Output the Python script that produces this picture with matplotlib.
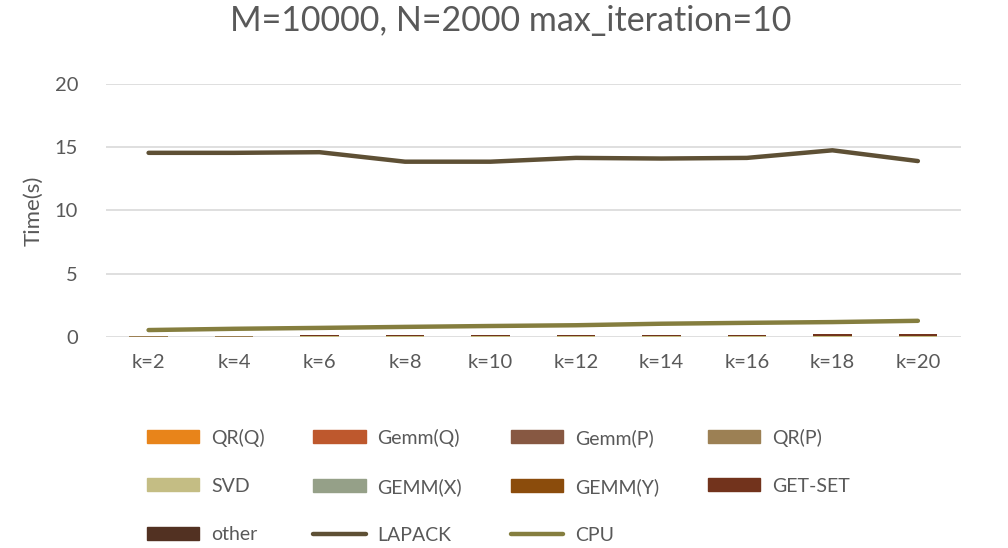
import numpy as np
import matplotlib.pyplot as plt
from matplotlib.patches import Patch
from matplotlib.lines import Line2D

plt.rcParams['font.family'] = ['Lato', 'DejaVu Sans']

# x categories
ks = ['k=2', 'k=4', 'k=6', 'k=8', 'k=10', 'k=12', 'k=14', 'k=16', 'k=18', 'k=20']

# stacked components (seconds) - all very small
qr_q    = [0.010, 0.010, 0.010, 0.010, 0.010, 0.010, 0.010, 0.010, 0.010, 0.010]
gemm_q  = [0.010, 0.010, 0.010, 0.010, 0.010, 0.010, 0.010, 0.010, 0.010, 0.010]
gemm_p  = [0.010, 0.010, 0.010, 0.010, 0.010, 0.010, 0.010, 0.010, 0.010, 0.010]
qr_p    = [0.020, 0.020, 0.010, 0.010, 0.010, 0.010, 0.010, 0.010, 0.010, 0.010]
svd     = [0.005, 0.005, 0.005, 0.005, 0.005, 0.005, 0.005, 0.005, 0.005, 0.005]
gemm_x  = [0.010, 0.010, 0.010, 0.010, 0.010, 0.010, 0.010, 0.010, 0.010, 0.010]
gemm_y  = [0.010, 0.010, 0.010, 0.010, 0.010, 0.010, 0.010, 0.010, 0.010, 0.010]
get_set = [0.010, 0.010, 0.060, 0.070, 0.080, 0.090, 0.100, 0.110, 0.140, 0.150]
other   = [0.020, 0.020, 0.010, 0.010, 0.010, 0.010, 0.010, 0.010, 0.010, 0.010]

# line series
lapack = [14.55, 14.55, 14.6, 13.85, 13.85, 14.15, 14.1, 14.15, 14.75, 13.9]
cpu    = [0.55, 0.65, 0.72, 0.80, 0.87, 0.93, 1.05, 1.12, 1.18, 1.28]

bar_names = ['QR(Q)', 'Gemm(Q)', 'Gemm(P)', 'QR(P)', 'SVD', 'GEMM(X)', 'GEMM(Y)', 'GET-SET', 'other']
bar_vals = [qr_q, gemm_q, gemm_p, qr_p, svd, gemm_x, gemm_y, get_set, other]
bar_cols = ['#E8841A', '#BE582D', '#875842', '#9C8054', '#C4BD84', '#95A088', '#8B4C0C', '#72331C', '#523122']

fig = plt.figure(figsize=(10.08, 5.48), dpi=100)
ax = fig.add_axes([0.105, 0.385, 0.848, 0.462])

x = np.arange(len(ks))
bottom = np.zeros(len(ks))
for name, vals, c in zip(bar_names, bar_vals, bar_cols):
    ax.bar(x, vals, 0.45, bottom=bottom, color=c, zorder=2)
    bottom += np.array(vals)

ax.plot(x, lapack, color='#5E5035', lw=3.2, solid_capstyle='round', solid_joinstyle='round', zorder=3)
ax.plot(x, cpu, color='#857E3F', lw=3.2, solid_capstyle='round', solid_joinstyle='round', zorder=3)

ax.set_xlim(-0.5, len(ks) - 0.5)
ax.set_ylim(0, 20)
ax.set_yticks([0, 5, 10, 15, 20])
ax.set_xticks(x)
ax.set_xticklabels(ks)
ax.yaxis.grid(True, color='#D9D9D9', lw=1.2, zorder=0)
ax.set_axisbelow(True)
for s in ['top', 'right', 'left', 'bottom']:
    ax.spines[s].set_visible(False)
ax.tick_params(length=0, labelsize=14.5, colors='#595959', pad=12)
ax.tick_params(axis='y', pad=20)
ax.set_ylabel('Time(s)', fontsize=16, color='#595959', labelpad=8)

fig.suptitle('M=10000, N=2000 max_iteration=10', fontsize=24.5, color='#595959', y=0.99, x=0.507)

# legend, ordered column-wise so it reads row by row
h = {n: Patch(color=c) for n, c in zip(bar_names, bar_cols)}
h['LAPACK'] = Line2D([0], [0], color='#5E5035', lw=3.2, solid_capstyle='round')
h['CPU'] = Line2D([0], [0], color='#857E3F', lw=3.2, solid_capstyle='round')
order = ['QR(Q)', 'SVD', 'other', 'Gemm(Q)', 'GEMM(X)', 'LAPACK', 'Gemm(P)', 'GEMM(Y)', 'CPU', 'QR(P)', 'GET-SET']
leg = fig.legend([h[n] for n in order], order, ncol=4, loc='upper left',
                 bbox_to_anchor=(0.138, 0.232), frameon=False, fontsize=14,
                 handlelength=2.7, handleheight=0.65, handletextpad=0.6,
                 columnspacing=2.5, labelspacing=1.6, borderaxespad=0)
for t in leg.get_texts():
    t.set_color('#595959')

fig.savefig('out.png', dpi=100)
